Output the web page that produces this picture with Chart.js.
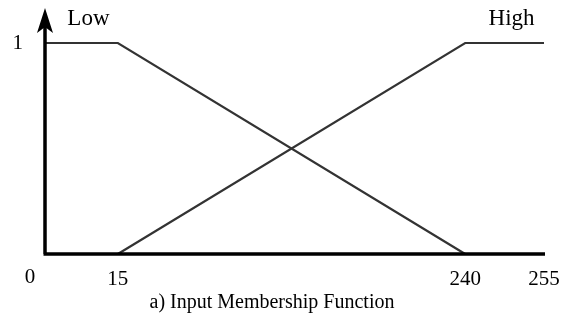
<!DOCTYPE html>
<html>
<head>
<meta charset="utf-8">
<script src="https://cdn.jsdelivr.net/npm/chart.js@4"></script>
<style>
  body { margin: 0; background: #fff; }
</style>
</head>
<body>
<canvas id="mfChart" width="567" height="326"></canvas>
<script>
// data
const seriesNames = ['Low', 'High'];
const xTicks = [0, 15, 240, 255];
const lowX = [0, 15, 240];
const lowY = [1, 1, 0];
const highX = [15, 240, 255];
const highY = [0, 1, 1];
const yTicks = [1];
const caption = 'a) Input Membership Function';

// the axis in the figure is drawn schematically, not to scale:
// where each tick sits along the axis (fraction of the axis length)
const tickFrac = [0, 0.146, 0.842, 1];

function valueToFrac(v) {
    for (let i = 1; i < xTicks.length; i++) {
        if (v <= xTicks[i] || i === xTicks.length - 1) {
            const t = (v - xTicks[i - 1]) / (xTicks[i] - xTicks[i - 1]);
            return tickFrac[i - 1] + t * (tickFrac[i] - tickFrac[i - 1]);
        }
    }
    return 0;
}
function fracToValue(f) {
    for (let i = 1; i < tickFrac.length; i++) {
        if (f <= tickFrac[i] || i === tickFrac.length - 1) {
            const t = (f - tickFrac[i - 1]) / (tickFrac[i] - tickFrac[i - 1]);
            return xTicks[i - 1] + t * (xTicks[i] - xTicks[i - 1]);
        }
    }
    return 0;
}

// linear scale with a piecewise mapping between the labelled ticks
class BreakScale extends Chart.LinearScale {
    static id = 'breaks';
    static defaults = Chart.LinearScale.defaults;
    getPixelForValue(value) {
        if (value === null || isNaN(value)) return NaN;
        return this.getPixelForDecimal(valueToFrac(value));
    }
    getValueForPixel(pixel) {
        return fracToValue(this.getDecimalForPixel(pixel));
    }
}
Chart.register(BreakScale);

const serif = 'Liberation Serif, Times New Roman, serif';
const lineColor = '#333';

// axes with arrow, origin label and the Low / High names
const axisPlugin = {
    id: 'axisPlugin',
    afterDraw(chart) {
        const ctx = chart.ctx;
        const a = chart.chartArea;
        ctx.save();
        ctx.strokeStyle = '#000';
        ctx.fillStyle = '#000';
        ctx.lineWidth = 3.5;
        ctx.beginPath();
        ctx.moveTo(a.left, a.bottom);
        ctx.lineTo(a.left, 24);
        ctx.moveTo(a.left - 1.5, a.bottom);
        ctx.lineTo(a.right + 1, a.bottom);
        ctx.stroke();
        // arrow head
        ctx.beginPath();
        ctx.moveTo(a.left, 8);
        ctx.lineTo(a.left + 8, 33);
        ctx.lineTo(a.left, 27);
        ctx.lineTo(a.left - 8, 33);
        ctx.closePath();
        ctx.fill();

        ctx.font = '21px ' + serif;
        ctx.textAlign = 'center';
        ctx.textBaseline = 'middle';
        ctx.fillText(String(xTicks[0]), a.left - 15, a.bottom + 23);

        ctx.font = '23px ' + serif;
        chart.data.datasets.forEach((ds, i) => {
            const pts = chart.getDatasetMeta(i).data;
            for (let k = 1; k < pts.length; k++) {
                if (ds.data[k].y === 1 && ds.data[k - 1].y === 1) {
                    const mx = (pts[k].x + pts[k - 1].x) / 2;
                    ctx.fillText(ds.label, mx + 7, pts[k].y - 24);
                }
            }
        });
        ctx.restore();
    }
};

new Chart(document.getElementById('mfChart'), {
    type: 'line',
    data: {
        datasets: [
            {
                label: seriesNames[0],
                data: lowX.map((x, i) => ({ x: x, y: lowY[i] }))
            },
            {
                label: seriesNames[1],
                data: highX.map((x, i) => ({ x: x, y: highY[i] }))
            }
        ]
    },
    options: {
        responsive: false,
        animation: false,
        events: [],
        layout: { padding: { top: 43, right: 23, left: 0, bottom: 0 } },
        elements: {
            line: { borderColor: lineColor, borderWidth: 2.2, tension: 0 },
            point: { radius: 0 }
        },
        datasets: { line: { clip: false } },
        plugins: {
            legend: { display: false },
            tooltip: { enabled: false },
            title: {
                display: true,
                position: 'bottom',
                text: caption,
                color: '#000',
                font: { family: serif, size: 20, weight: 'normal' },
                padding: { top: 0, bottom: 11 }
            }
        },
        scales: {
            x: {
                type: 'breaks',
                min: 0,
                max: 255,
                grid: { display: false },
                border: { display: false },
                afterBuildTicks: s => { s.ticks = xTicks.map(v => ({ value: v })); },
                afterFit: s => { s.height = 37; },
                ticks: {
                    autoSkip: false,
                    maxRotation: 0,
                    padding: 5,
                    color: '#000',
                    font: { family: serif, size: 21 },
                    callback: v => (v === 0 ? '' : String(v))
                }
            },
            y: {
                min: 0,
                max: 1,
                grid: { display: false },
                border: { display: false },
                afterBuildTicks: s => { s.ticks = yTicks.map(v => ({ value: v })); },
                afterFit: s => { s.width = 45; },
                ticks: {
                    padding: 14,
                    color: '#000',
                    font: { family: serif, size: 21 }
                }
            }
        }
    },
    plugins: [axisPlugin]
});
</script>
</body>
</html>
